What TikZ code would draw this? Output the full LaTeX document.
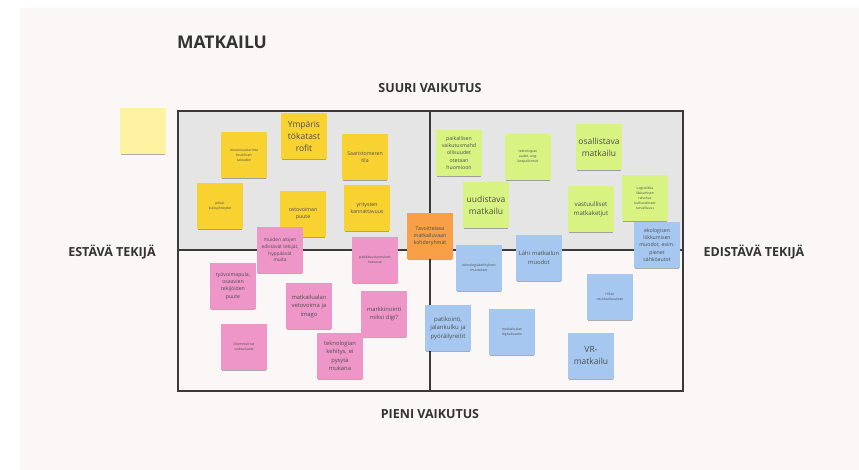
\documentclass[tikz,border=0pt]{standalone}
\usepackage{fontspec}
\setmainfont{Open Sans}
\usetikzlibrary{shadows}
\definecolor{board}{HTML}{FAF7F6}
\definecolor{topgray}{HTML}{E5E5E5}
\definecolor{frameline}{HTML}{3A3A3A}
\definecolor{labelc}{HTML}{333333}
\definecolor{ylw}{HTML}{F7D231}
\definecolor{paleylw}{HTML}{FDF3A0}
\definecolor{grn}{HTML}{D8F382}
\definecolor{orng}{HTML}{F89F48}
\definecolor{pnk}{HTML}{EE96C8}
\definecolor{blu}{HTML}{A6C8F0}
\definecolor{notetext}{HTML}{4D4D4D}
\tikzset{
  sticky/.style={minimum width=46pt, minimum height=46pt, text width=44pt, inner sep=1pt,
    align=center, text=notetext,
    drop shadow={shadow xshift=0pt, shadow yshift=-2.5pt, shadow scale=0.96, opacity=0.3, fill=black}},
  big/.style={font=\fontsize{8.5}{12}\selectfont},
  mid/.style={font=\fontsize{5.2}{7.2}\selectfont},
  tiny/.style={font=\fontsize{3.4}{5}\selectfont},
  ynote/.style={sticky, fill=ylw},
  gnote/.style={sticky, fill=grn},
  pnote/.style={sticky, fill=pnk},
  bnote/.style={sticky, fill=blu},
  onote/.style={sticky, fill=orng},
  axislabel/.style={font=\bfseries\fontsize{12.5}{14}\selectfont, text=labelc, inner sep=0pt},
}
\begin{document}
\begin{tikzpicture}[x=1pt, y=-1pt]
\useasboundingbox (0,0) rectangle (859,470);
\fill[white] (0,0) rectangle (859,470);
\fill[board] (20,8) rectangle (859,470);
% matrix
\fill[topgray] (178,111) rectangle (683,250);
\coordinate (tl) at (178,111);
\coordinate (br) at (683,391);
\coordinate (mt) at (430,111);
\coordinate (mb) at (430,391);
\coordinate (ml) at (178,250);
\coordinate (mr) at (683,250);
\draw[frameline, line width=1.6pt] (tl) rectangle (br);
\draw[frameline, line width=1.6pt] (mt) -- (mb);
\draw[frameline, line width=1.6pt] (ml) -- (mr);
% labels
\node[font=\bfseries\fontsize{17.5}{20}\selectfont, text=labelc, inner sep=0pt] (title) at (222,42) {MATKAILU};
\node[axislabel] (top) at (430,88) {SUURI VAIKUTUS};
\node[axislabel] (bottom) at (430,414) {PIENI VAIKUTUS};
\node[axislabel] (left) at (112,252) {ESTÄVÄ TEKIJÄ};
\node[axislabel] (right) at (754,252) {EDISTÄVÄ TEKIJÄ};
% loose note
\node[sticky, fill=paleylw] (loose) at (143,131) {};
% yellow
\node[ynote, big] (y1) at (304,136) {Ympäris\\tökatast\\rofit};
\node[ynote, tiny] (y2) at (244,155) {muutosvastarinta\\fossiilisen\\talouden};
\node[ynote, tiny] (y3) at (220,206) {pitkät\\kulkuyhteydet};
\node[ynote, mid] (y4) at (303,214) {ostovoiman\\puute};
\node[ynote, mid] (y5) at (365,157) {Saaristomeren\\tila};
\node[ynote, mid] (y6) at (367,208) {yritysten\\kannattavuus};
% green
\node[gnote, mid] (g1) at (459,153) {paikallisen\\vaikutusmahd\\ollisuudet\\otetaan\\huomioon};
\node[gnote, tiny] (g2) at (528,157) {teknologian\\uudet, ung.\\koepalkinnot};
\node[gnote, big] (g3) at (486,205) {uudistava\\matkailu};
\node[gnote, big] (g4) at (599,147) {osallistava\\matkailu};
\node[gnote, font=\fontsize{6.2}{9}\selectfont] (g5) at (591,209) {vastuulliset\\matkaketjut};
\node[gnote, tiny] (g6) at (645,198) {Logistiikka\\liikkumisen\\rahoitus\\kulkuvälineet\\turvallisuus};
% orange
\node[onote, mid] (o1) at (430,236) {Tavoitteleva\\matkailuvaan\\kohderyhmät};
% blue
\node[bnote, mid] (b1) at (657,245) {ekologisen\\liikkumisen\\muodot, esim.\\pienet\\sähköautot};
\node[bnote, tiny] (b2) at (479,268) {teknologiakehityksen\\muutokset};
\node[bnote, font=\fontsize{5.8}{8.5}\selectfont] (b3) at (539,258) {Lähi matkailun\\muodot};
\node[bnote, font=\fontsize{6}{8.5}\selectfont] (b4) at (448,328) {patikointi,\\jalankulku ja\\pyöräilyreitit};
\node[bnote, tiny] (b5) at (512,332) {matkailualan\\digitalisaatio};
\node[bnote, tiny] (b6) at (610,297) {Hiilen\\neutraalisuuteen};
\node[bnote, big] (b7) at (591,356) {VR-\\matkailu};
% pink
\node[pnote, font=\fontsize{4.8}{6.6}\selectfont] (p1) at (280,250) {muiden alojen\\edistävät tekijät,\\hyppäävät\\muita};
\node[pnote, mid] (p2) at (233,286) {työvoimapula,\\osaavien\\tekijöiden\\puute};
\node[pnote, tiny] (p3) at (244,347) {liikennevirrat\\vaikeuttavat};
\node[pnote, font=\fontsize{5.8}{8.5}\selectfont] (p4) at (309,306) {matkailualan\\vetovoima ja\\imago};
\node[pnote, tiny] (p5) at (375,260) {palkkakustannukset\\kasvavat};
\node[pnote, font=\fontsize{5.8}{8.5}\selectfont] (p6) at (384,314) {markkinointi\\miksi digi?};
\node[pnote, font=\fontsize{5.8}{8.5}\selectfont] (p7) at (340,356) {teknologian\\kehitys, ei\\pysytä\\mukana};
\end{tikzpicture}
\end{document}
